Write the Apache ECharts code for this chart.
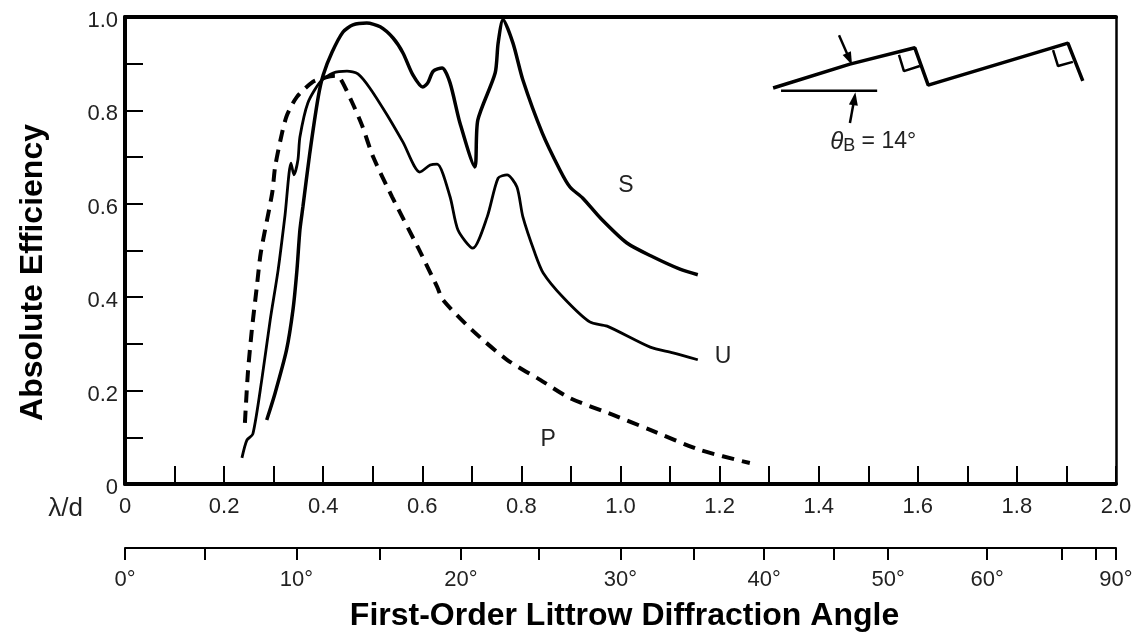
<!DOCTYPE html>
<html>
<head>
<meta charset="utf-8">
<script src="https://cdn.jsdelivr.net/npm/echarts@6/dist/echarts.min.js"></script>
<style>
	html, body { margin: 0; padding: 0; background: #fff; }
	#chart { width: 1140px; height: 635px; }
</style>
</head>
<body>
<div id="chart"></div>
<script>
// [lambda/d, absolute efficiency]
const curveS = [[.286,.137],[.303,.195],[.326,.287],[.339,.373],[.347,.458],[.353,.544],[.359,.593],[.373,.709],[.390,.829],[.400,.876],[.418,.925],[.440,.968],[.460,.983],[.488,.987],[.515,.979],[.541,.955],[.561,.923],[.581,.876],[.601,.850],[.611,.859],[.622,.884],[.640,.891],[.656,.859],[.676,.773],[.706,.679],[.712,.779],[.747,.880],[.753,.944],[.763,.994],[.783,.944],[.803,.865],[.842,.752],[.878,.672],[.898,.636],[.924,.612],[.959,.570],[1.013,.516],[1.066,.486],[1.120,.460],[1.156,.448]];
const curveU = [[.236,.056],[.246,.094],[.258,.107],[.276,.223],[.293,.351],[.309,.458],[.323,.576],[.335,.687],[.341,.662],[.349,.694],[.353,.743],[.369,.816],[.394,.861],[.420,.880],[.448,.884],[.470,.878],[.494,.848],[.529,.790],[.561,.732],[.595,.668],[.616,.683],[.630,.685],[.656,.615],[.672,.544],[.702,.505],[.731,.572],[.753,.655],[.771,.662],[.791,.636],[.803,.572],[.827,.495],[.844,.452],[.884,.400],[.938,.347],[.973,.338],[1.060,.293],[1.106,.281],[1.156,.266]];
const curveP = [[.242,.131],[.248,.238],[.256,.330],[.266,.422],[.274,.495],[.297,.623],[.303,.679],[.317,.752],[.327,.790],[.347,.829],[.379,.861],[.400,.869],[.424,.874],[.434,.869],[.458,.818],[.478,.769],[.501,.700],[.539,.615],[.591,.507],[.630,.422],[.642,.394],[.700,.330],[.771,.266],[.838,.223],[.898,.184],[.985,.148],[1.060,.116],[1.160,.073],[1.261,.045]];

// second scale: where each angle falls on the lambda/d scale
const angleTicks = [0,.161,.346,.515,.678,.836,1,1.147,1.29,1.43,1.54,1.74,1.89,1.96,2];
const angleLabelTicks = [0,.346,.678,1,1.29,1.54,1.74,2];
const angleLabels = ['0°','10°','20°','30°','40°','50°','60°','90°'];

const curveNames = [[1.011,.638,'S'],[1.207,.272,'U'],[.854,.096,'P']];

// grating sketch, top right
const gratingProfile = [[1.308,.848],[1.463,.899],[1.594,.934],[1.621,.854],[1.903,.944],[1.933,.863]];
const gratingBase = [[1.324,.842],[1.518,.842]];
const rightAngleA = [[1.562,.919],[1.572,.884],[1.604,.895]];
const rightAngleB = [[1.873,.929],[1.883,.895],[1.913,.904]];
const arrowTop = [[1.441,.961],[1.462,.910]];
const arrowBottom = [[1.463,.773],[1.472,.825]];

const textColor = '#222';
const fontFamily = '"Liberation Sans", Arial, sans-serif';

function curve(name, data, width, dashed) {
	return {
		name: name,
		type: 'line',
		xAxisIndex: 0,
		yAxisIndex: 0,
		data: data,
		symbol: 'none',
		smooth: 0.25,
		lineStyle: { color: '#000', width: width, type: dashed ? [12.25, 8] : 'solid' }
	};
}

function sketch(data, width) {
	return {
		type: 'line',
		xAxisIndex: 0,
		yAxisIndex: 0,
		data: data,
		symbol: 'none',
		lineStyle: { color: '#000', width: width }
	};
}

let option = {
	animation: false,
	backgroundColor: '#fff',
	textStyle: { fontFamily: fontFamily, color: textColor },
	grid: [
		{ left: 125, top: 17, width: 991, height: 467 },
		{ left: 125, top: 547, width: 991, height: 1 }
	],
	xAxis: [
		{
			gridIndex: 0,
			type: 'value',
			min: 0,
			max: 2,
			interval: 0.2,
			position: 'bottom',
			name: 'λ/d',
			nameLocation: 'start',
			nameGap: 42,
			nameTextStyle: { fontSize: 26, color: textColor, padding: [12, 0, 0, 0], verticalAlign: 'top' },
			axisLine: { onZero: false, lineStyle: { color: '#000', width: 4 } },
			axisTick: { inside: true, length: 18, lineStyle: { color: '#000', width: 2 } },
			minorTick: { show: true, splitNumber: 2, length: 18, lineStyle: { color: '#000', width: 2 } },
			splitLine: { show: false },
			axisLabel: {
				fontSize: 22,
				color: textColor,
				margin: 12,
				formatter: v => v === 0 ? '0' : v.toFixed(1)
			}
		},
		{
			gridIndex: 0,
			type: 'value',
			min: 0,
			max: 2,
			position: 'top',
			axisLine: { show: true, onZero: false, lineStyle: { color: '#000', width: 4 } },
			axisTick: { show: false },
			axisLabel: { show: false },
			splitLine: { show: false }
		},
		{
			gridIndex: 1,
			type: 'value',
			min: 0,
			max: 2,
			position: 'bottom',
			name: 'First-Order Littrow Diffraction Angle',
			nameLocation: 'middle',
			nameGap: 52,
			nameTextStyle: { fontSize: 32, fontWeight: 'bold', color: '#000', padding: [0, 0, 0, 8] },
			axisLine: { onZero: false, lineStyle: { color: '#000', width: 2 } },
			axisTick: { customValues: angleTicks, length: 12, lineStyle: { color: '#000', width: 2 } },
			splitLine: { show: false },
			axisLabel: {
				customValues: angleLabelTicks,
				fontSize: 22,
				color: textColor,
				margin: 21,
				formatter: v => angleLabels[angleLabelTicks.indexOf(v)]
			}
		}
	],
	yAxis: [
		{
			gridIndex: 0,
			type: 'value',
			min: 0,
			max: 1,
			interval: 0.2,
			name: 'Absolute Efficiency',
			nameLocation: 'middle',
			nameGap: 76,
			nameTextStyle: { fontSize: 32, fontWeight: 'bold', color: '#000', padding: [0, 44, 0, 0] },
			axisLine: { show: true, onZero: false, lineStyle: { color: '#000', width: 4 } },
			axisTick: { show: true, inside: true, length: 18, lineStyle: { color: '#000', width: 2 } },
			minorTick: { show: true, splitNumber: 2, length: 18, lineStyle: { color: '#000', width: 2 } },
			splitLine: { show: false },
			axisLabel: {
				fontSize: 22,
				color: textColor,
				margin: 7,
				verticalAlign: 'top',
				lineHeight: 8,
				formatter: v => v === 0 ? '0' : v.toFixed(1)
			}
		},
		{
			gridIndex: 0,
			type: 'value',
			min: 0,
			max: 1,
			position: 'right',
			axisLine: { show: true, onZero: false, lineStyle: { color: '#000', width: 2.5 } },
			axisTick: { show: false },
			axisLabel: { show: false },
			splitLine: { show: false }
		},
		{
			gridIndex: 1,
			type: 'value',
			min: 0,
			max: 1,
			show: false
		}
	],
	series: [
		curve('S', curveS, 3.5, false),
		curve('U', curveU, 2.8, false),
		curve('P', curveP, 4, true),
		sketch(gratingProfile, 3.5),
		sketch(gratingBase, 2.5),
		sketch(rightAngleA, 2.5),
		sketch(rightAngleB, 2.5),
		sketch(arrowTop, 2.5),
		sketch(arrowBottom, 2.5),
		{
			// arrow heads of the sketch
			type: 'scatter',
			xAxisIndex: 0,
			yAxisIndex: 0,
			symbol: 'triangle',
			symbolSize: [9, 13],
			itemStyle: { color: '#000', opacity: 1 },
			data: [
				{ value: arrowTop[1], symbolRotate: 204 },
				{ value: arrowBottom[1], symbolRotate: -9 }
			]
		},
		{
			type: 'scatter',
			xAxisIndex: 0,
			yAxisIndex: 0,
			symbolSize: 0,
			itemStyle: { opacity: 1 },
			data: curveNames,
			label: {
				show: true,
				position: 'inside',
				fontSize: 23,
				color: textColor,
				opacity: 1,
				formatter: p => p.value[2]
			}
		},
		{
			type: 'scatter',
			xAxisIndex: 0,
			yAxisIndex: 0,
			symbolSize: 0,
			itemStyle: { opacity: 1 },
			data: [[1.51, .732]],
			label: {
				show: true,
				position: 'inside',
				opacity: 1,
				formatter: '{t|θ}{b|B}{n| = 14°}',
				rich: {
					t: { fontSize: 24, fontStyle: 'italic', color: textColor },
					b: { fontSize: 18, color: textColor, verticalAlign: 'bottom', padding: [8, 0, 0, 0] },
					n: { fontSize: 23, color: textColor }
				}
			}
		}
	]
};

var myChart = echarts.init(document.getElementById('chart'));
myChart.setOption(option);
</script>
</body>
</html>
